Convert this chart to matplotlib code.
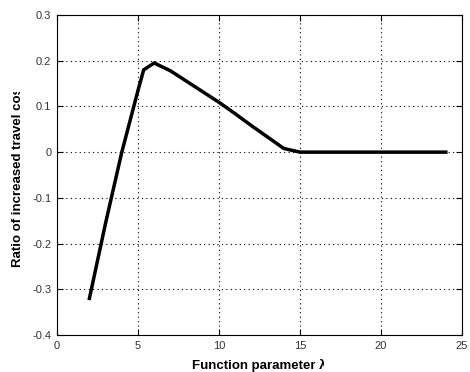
import numpy as np
import matplotlib.pyplot as plt
from matplotlib.transforms import Bbox

# data
param = [2, 3, 4, 5, 5.35, 6, 7, 8, 9, 10, 11, 12, 13, 14, 15,
         16, 17, 18, 19, 20, 21, 22, 23, 24]
ratio = [-0.32, -0.155, 0.0, 0.135, 0.18, 0.195, 0.178, 0.155, 0.132,
         0.109, 0.084, 0.058, 0.033, 0.008, 0.0,
         0.0, 0.0, 0.0, 0.0, 0.0, 0.0, 0.0, 0.0, 0.0]
xticks = [0, 5, 10, 15, 20, 25]
yticks = [-0.4, -0.3, -0.2, -0.1, 0, 0.1, 0.2, 0.3]

plt.rcParams['font.family'] = ['Liberation Sans', 'DejaVu Sans']

fig = plt.figure(figsize=(4.7, 3.72), dpi=100)
ax = fig.add_axes([57 / 470, 37 / 372, 405 / 470, 320 / 372])

ax.plot(param, ratio, color='black', linewidth=2.5, solid_joinstyle='miter')

ax.set_xlim(0, 25)
ax.set_ylim(-0.4, 0.3)
ax.set_xticks(xticks)
ax.set_yticks(yticks)
ax.set_xticklabels([str(t) for t in xticks])
ax.set_yticklabels(['-0.4', '-0.3', '-0.2', '-0.1', '0', '0.1', '0.2', '0.3'])
ax.tick_params(direction='in', length=4, labelsize=8, colors='black',
               top=True, right=True, pad=4)
for lab in ax.get_xticklabels() + ax.get_yticklabels():
    lab.set_color('#333333')
ax.grid(True, linestyle=(0, (1, 3)), color='black', linewidth=0.8)
for sp in ax.spines.values():
    sp.set_linewidth(0.8)

xl = ax.set_xlabel('Function parameter \u03bb', fontsize=9.5, fontweight='bold',
                   labelpad=6)
yl = ax.set_ylabel('Ratio of increased travel cost', fontsize=9.5,
                   fontweight='bold', labelpad=6)

# the reference cuts both labels short
xl.set_clip_box(Bbox([[0, 0], [324, 372]]))
xl.set_clip_on(True)
yl.set_clip_box(Bbox([[0, 0], [470, 372 - 92]]))
yl.set_clip_on(True)

fig.savefig('out.png', dpi=100)
